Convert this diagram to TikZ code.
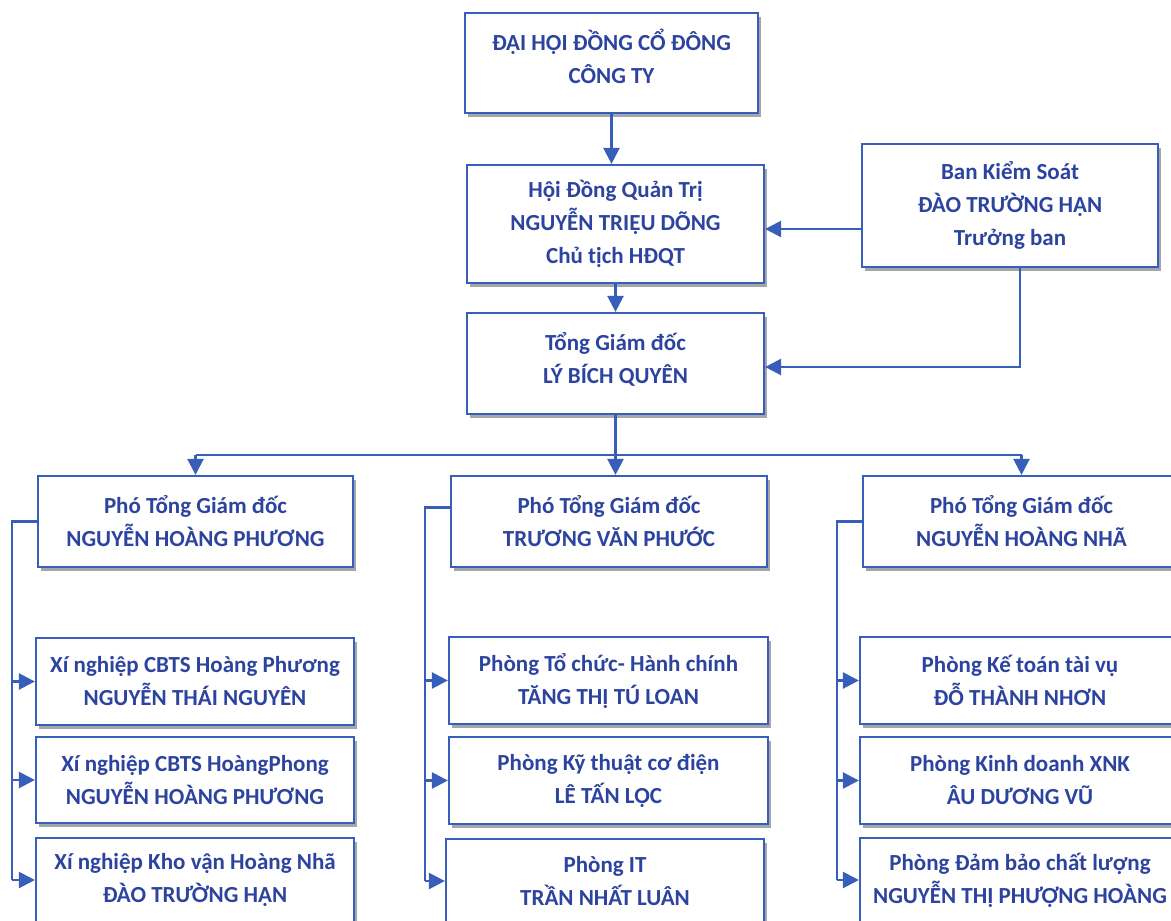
\documentclass[tikz,border=0pt]{standalone}
\usepackage{fontspec}
\setmainfont{Carlito}
\usetikzlibrary{arrows.meta,shadows,calc}
\definecolor{lineblue}{RGB}{55,95,185}
\definecolor{txtblue}{RGB}{44,68,160}
\definecolor{shadowgray}{RGB}{165,165,172}
\newcommand{\lowpad}[1]{\rule[-#1]{0pt}{#1}}
\begin{document}
\begin{tikzpicture}[x=1pt,y=-1pt,
  orgbox/.style={draw=lineblue, line width=2.2pt, fill=white, text=txtblue, align=center,
    font=\bfseries\fontsize{23}{33}\selectfont, inner sep=0pt,
    drop shadow={shadow xshift=3pt, shadow yshift=-4pt, fill=shadowgray, opacity=1}},
  conn/.style={draw=lineblue, line width=2.4pt},
  arr/.style={conn, -{Triangle[length=16pt,width=16pt]}},
]
\useasboundingbox (0,0) rectangle (1171,921);

% top levels
\node[orgbox, minimum width=293pt, minimum height=100pt] (dhcd) at (611.5,63) {ĐẠI HỘI ĐỒNG CỔ ĐÔNG\\CÔNG TY\lowpad{14pt}};
\node[orgbox, minimum width=297pt, minimum height=118pt] (hdqt) at (615.5,224) {Hội Đồng Quản Trị\\NGUYỄN TRIỆU DÕNG\\Chủ tịch HĐQT};
\node[orgbox, minimum width=296pt, minimum height=123pt] (bks) at (1010,205.5) {Ban Kiểm Soát\\ĐÀO TRƯỜNG HẬN\\Trưởng ban};
\node[orgbox, minimum width=297pt, minimum height=101pt] (tgd) at (615.5,363.5) {Tổng Giám đốc\\LÝ BÍCH QUYÊN\lowpad{12pt}};

% deputies
\node[orgbox, minimum width=315pt, minimum height=91pt] (pgd1) at (195.5,521.5) {Phó Tổng Giám đốc\\NGUYỄN HOÀNG PHƯƠNG};
\node[orgbox, minimum width=316pt, minimum height=91pt] (pgd2) at (609,521.5) {Phó Tổng Giám đốc\\TRƯƠNG VĂN PHƯỚC};
\node[orgbox, minimum width=317pt, minimum height=91pt] (pgd3) at (1021.5,521.5) {Phó Tổng Giám đốc\\NGUYỄN HOÀNG NHÃ};

% column 1
\node[orgbox, minimum width=318pt, minimum height=87pt] (c1a) at (195,681.5) {Xí nghiệp CBTS Hoàng Phương\\NGUYỄN THÁI NGUYÊN};
\node[orgbox, minimum width=318pt, minimum height=86pt] (c1b) at (195,780) {Xí nghiệp CBTS HoàngPhong\\NGUYỄN HOÀNG PHƯƠNG};
\node[orgbox, minimum width=318pt, minimum height=84pt] (c1c) at (195,880) {Xí nghiệp Kho vận Hoàng Nhã\\ĐÀO TRƯỜNG HẬN};

% column 2
\node[orgbox, minimum width=319pt, minimum height=87pt] (c2a) at (608.5,680.5) {Phòng Tổ chức- Hành chính\\TĂNG THỊ TÚ LOAN};
\node[orgbox, minimum width=319pt, minimum height=87pt] (c2b) at (608.5,780.5) {Phòng Kỹ thuật cơ điện\\LÊ TẤN LỘC};
\node[orgbox, minimum width=318pt, minimum height=84pt] (c2c) at (605,881) {Phòng IT\\TRẦN NHẤT LUÂN};

% column 3
\node[orgbox, minimum width=320pt, minimum height=87pt] (c3a) at (1020,680.5) {Phòng Kế toán tài vụ\\ĐỖ THÀNH NHƠN};
\node[orgbox, minimum width=320pt, minimum height=87pt] (c3b) at (1020,780.5) {Phòng Kinh doanh XNK\\ÂU DƯƠNG VŨ};
\node[orgbox, minimum width=320pt, minimum height=84pt] (c3c) at (1020,880) {Phòng Đảm bảo chất lượng\\NGUYỄN THỊ PHƯỢNG HOÀNG};

% helper coordinates
\coordinate (bksout) at (862,229);
\coordinate (busy) at (0,455);
\coordinate (bus1) at (12,0);
\coordinate (bus2) at (425,0);
\coordinate (bus3) at (837,0);

% upper connectors
\draw[arr] (dhcd.south) -- (dhcd.south |- hdqt.north);
\draw[arr] (hdqt.south) -- (tgd.north);
\draw[arr] (bksout) -- (bksout -| hdqt.east);
\draw[arr] ([xshift=10pt]bks.south) |- ([yshift=-3.5pt]tgd.east);

% to deputies
\draw[conn] (pgd1.north |- busy) -- (pgd3.north |- busy);
\draw[arr] (tgd.south) -- (tgd.south |- pgd2.north);
\draw[arr] (pgd1.north |- busy) -- (pgd1.north);
\draw[arr] (pgd3.north |- busy) -- (pgd3.north);

% column buses
\draw[conn] (pgd1.west) -| (bus1 |- c1c.west);
\draw[arr] (bus1 |- c1a.west) -- (c1a.west);
\draw[arr] (bus1 |- c1b.west) -- (c1b.west);
\draw[arr] (bus1 |- c1c.west) -- (c1c.west);

\draw[conn] ([yshift=14pt]pgd2.west) -| (bus2 |- c2c.west);
\draw[arr] (bus2 |- c2a.west) -- (c2a.west);
\draw[arr] (bus2 |- c2b.west) -- (c2b.west);
\draw[arr] (bus2 |- c2c.west) -- (c2c.west);

\draw[conn] (pgd3.west) -| (bus3 |- c3c.west);
\draw[arr] (bus3 |- c3a.west) -- (c3a.west);
\draw[arr] (bus3 |- c3b.west) -- (c3b.west);
\draw[arr] (bus3 |- c3c.west) -- (c3c.west);
\end{tikzpicture}
\end{document}
